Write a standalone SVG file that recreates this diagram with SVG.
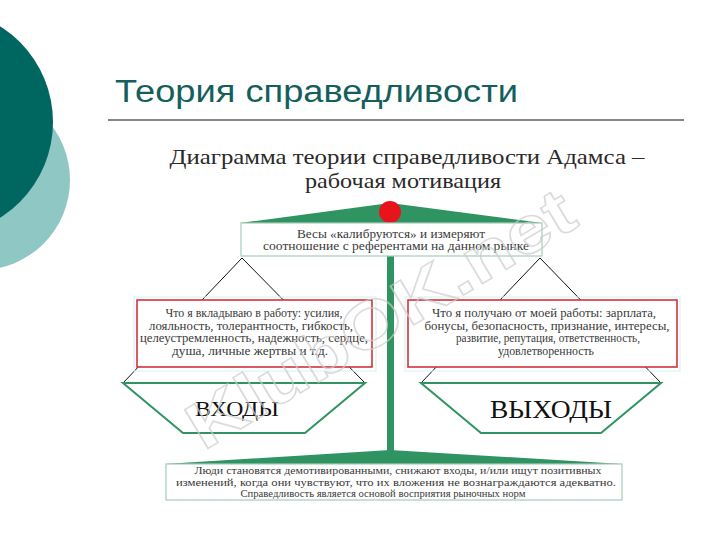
<svg xmlns="http://www.w3.org/2000/svg" width="720" height="540" viewBox="0 0 720 540">
<style>
.title{font-family:"Liberation Sans",Arial,sans-serif;font-size:31px;fill:#145f5c}
.sub{font-family:"Liberation Serif","DejaVu Serif",serif;font-size:22px;fill:#2a2a2a;text-anchor:middle}
.t{font-family:"Liberation Serif","DejaVu Serif",serif;fill:#3a3a3a;text-anchor:middle}
.s{font-size:11.5px}
.b{font-size:10.5px}
.pan{fill:#fff;stroke:#2f9461;stroke-width:2}
.red{fill:#fff;stroke:#d2333c;stroke-width:1.6}
.gbox{fill:#fff;stroke:#a9cbb8;stroke-width:1.2}
.hang{stroke:#111;stroke-width:1;fill:none}
.big{font-family:"Liberation Serif","DejaVu Serif",serif;fill:#111;text-anchor:middle}
</style>
<rect width="720" height="540" fill="#fff"/>
<g id="bg">
<circle cx="-20" cy="180" r="90" fill="#8fc7c4"/>
<circle cx="-60" cy="122" r="113" fill="#006660"/>
</g>
<g id="header">
<text class="title" x="115" y="102" textLength="403" lengthAdjust="spacingAndGlyphs">Теория справедливости</text>
<line x1="108" y1="120" x2="684" y2="120" stroke="#111" stroke-width="1.2"/>
<text class="sub" x="407" y="164" textLength="475" lengthAdjust="spacingAndGlyphs">Диаграмма теории справедливости Адамса –</text>
<text class="sub" x="403" y="188" textLength="196" lengthAdjust="spacingAndGlyphs">рабочая мотивация</text>
</g>
<g id="connectors">
<rect x="387" y="256" width="7" height="200" fill="#2f9461"/>
<polygon points="165,464 390,450 622,464" fill="#2f9461"/>
<polyline class="hang" points="123,383 242,258 365,383"/>
<polyline class="hang" points="421,383 540,258 661,383"/>
</g>
<g id="top">
<polygon points="240,223 390,203 542,223" fill="#2f9461"/>
<circle cx="390" cy="212" r="11" fill="#e8141c"/>
<rect class="gbox" x="241" y="223" width="301" height="33"/>
<text class="t s" x="391" y="238" textLength="188" lengthAdjust="spacingAndGlyphs">Весы «калибруются» и измеряют</text>
<text class="t s" x="396" y="250" textLength="266" lengthAdjust="spacingAndGlyphs">соотношение с референтами на данном рынке</text>
</g>
<g id="inputs-box">
<rect x="134" y="297" width="242" height="74" fill="none" stroke="#d6eef0" stroke-width="1"/>
<rect class="red" x="137" y="300" width="235" height="67"/>
<text class="t s" x="254" y="317" textLength="177" lengthAdjust="spacingAndGlyphs">Что я вкладываю в работу: усилия,</text>
<text class="t s" x="251" y="329.5" textLength="204" lengthAdjust="spacingAndGlyphs">лояльность, толерантность, гибкость,</text>
<text class="t s" x="254" y="342" textLength="228" lengthAdjust="spacingAndGlyphs">целеустремленность, надежность, сердце,</text>
<text class="t s" x="250" y="354.5" textLength="156" lengthAdjust="spacingAndGlyphs">душа, личные жертвы и т.д.</text>
</g>
<g id="outputs-box">
<rect x="405" y="297" width="275" height="74" fill="none" stroke="#d6eef0" stroke-width="1"/>
<rect class="red" x="408" y="300" width="269" height="67"/>
<text class="t s" x="544" y="317" textLength="224" lengthAdjust="spacingAndGlyphs">Что я получаю от моей работы: зарплата,</text>
<text class="t s" x="547" y="329.5" textLength="245" lengthAdjust="spacingAndGlyphs">бонусы, безопасность, признание, интересы,</text>
<text class="t s" x="548" y="342" textLength="184" lengthAdjust="spacingAndGlyphs">развитие, репутация, ответственность,</text>
<text class="t s" x="546" y="354.5" textLength="96" lengthAdjust="spacingAndGlyphs">удовлетворенность</text>
</g>
<g id="inputs-pan">
<polygon class="pan" points="123,383 365,383 305,433 183,433"/>
<text class="big" x="237" y="416" font-size="22" textLength="84" lengthAdjust="spacingAndGlyphs">ВХОДЫ</text>
</g>
<g id="outputs-pan">
<polygon class="pan" points="421,383 661,383 601,433 481,433"/>
<text class="big" x="551" y="418" font-size="25" textLength="122" lengthAdjust="spacingAndGlyphs">ВЫХОДЫ</text>
</g>
<g id="bottom">
<rect class="gbox" x="166" y="464" width="456" height="36"/>
<text class="t b" x="398" y="474" textLength="407" lengthAdjust="spacingAndGlyphs">Люди становятся демотивированными, снижают входы, и/или ищут позитивных</text>
<text class="t b" x="396" y="486" textLength="440" lengthAdjust="spacingAndGlyphs">изменений, когда они чувствуют, что их вложения не вознаграждаются адекватно.</text>
<text class="t b" x="383" y="497" textLength="285" lengthAdjust="spacingAndGlyphs">Справедливость является основой восприятия рыночных норм</text>
</g>
<g id="watermark" opacity="0.7">
<text x="0" y="0" transform="translate(392,338) rotate(-31)" font-family="'Liberation Sans',Arial,sans-serif" font-weight="bold" font-size="66" text-anchor="middle" fill="none" stroke="#cccccc" stroke-width="1.5" textLength="440" lengthAdjust="spacingAndGlyphs">KlubOK.net</text>
</g>
</svg>
